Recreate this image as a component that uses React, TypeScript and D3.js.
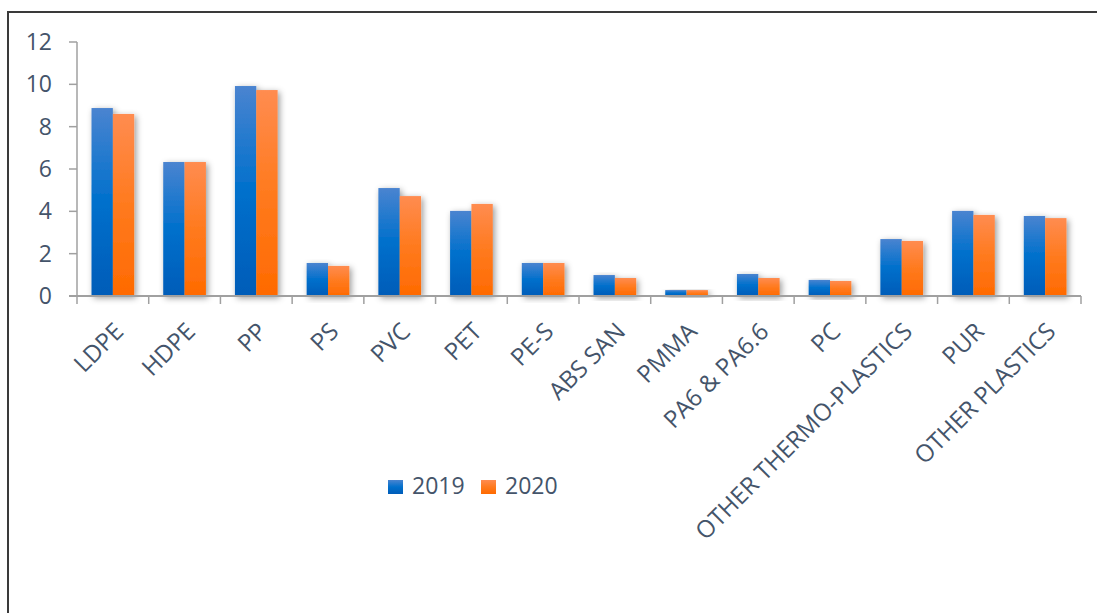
import React from "react";
import * as d3 from "d3";

const categories = ["LDPE", "HDPE", "PP", "PS", "PVC", "PET", "PE-S", "ABS SAN", "PMMA", "PA6 & PA6.6", "PC", "OTHER THERMO-PLASTICS", "PUR", "OTHER PLASTICS"];
const series = ["2019", "2020"];
const values2019 = [8.88, 6.33, 9.92, 1.56, 5.1, 4.02, 1.56, 0.99, 0.28, 1.04, 0.76, 2.69, 4.02, 3.78];
const values2020 = [8.6, 6.33, 9.73, 1.42, 4.72, 4.35, 1.56, 0.85, 0.28, 0.85, 0.71, 2.6, 3.83, 3.68];
const yTicks = [0, 2, 4, 6, 8, 10, 12];

const W = 1097;
const H = 613;
const FONT = "'Open Sans', sans-serif";
const TEXT = "#44546A";
const AXIS = "#A0A0A0";

export default function App() {
  const x0 = d3.scaleBand<string>().domain(categories).range([77, 1081]).padding(0);
  const x1 = d3.scaleBand<string>().domain(series).range([0, x0.bandwidth()]).paddingInner(0).paddingOuter(0.68);
  const y = d3.scaleLinear().domain([0, 12]).range([296, 42]);
  const data = [values2019, values2020];
  const fills = ["url(#gBlue)", "url(#gOrange)"];
  const ticksX = categories.map((_, i) => 77 + i * x0.step()).concat([1081]);

  return (
    <svg width={W} height={H} style={{ position: "absolute", left: 0, top: 0, background: "#fff" }}>
      <defs>
        <linearGradient id="gBlue" x1="0" y1="0" x2="0" y2="1">
          <stop offset="0" stopColor="#4A84D0" />
          <stop offset="0.5" stopColor="#0070CC" />
          <stop offset="1" stopColor="#005CB8" />
        </linearGradient>
        <linearGradient id="gOrange" x1="0" y1="0" x2="0" y2="1">
          <stop offset="0" stopColor="#FF8C50" />
          <stop offset="0.5" stopColor="#FF7A1E" />
          <stop offset="1" stopColor="#FF6A00" />
        </linearGradient>
        <filter id="shadow" x="-30%" y="-10%" width="160%" height="130%">
          <feDropShadow dx="2" dy="2" stdDeviation="3" floodColor="#000" floodOpacity="0.4" />
        </filter>
      </defs>
      <rect x={8} y={12} width={W + 20} height={H + 20} fill="#fff" stroke="#3A3A3A" strokeWidth={2} />

      {categories.map((c, i) => (
        <g key={c} transform={`translate(${x0(c)},0)`} filter="url(#shadow)">
          {series.map((s, k) => (
            <rect key={s} x={x1(s)} y={y(data[k][i])} width={x1.bandwidth()} height={y(0) - y(data[k][i])} fill={fills[k]} />
          ))}
        </g>
      ))}

      <line x1={77} x2={77} y1={y(12)} y2={y(0)} stroke={AXIS} strokeWidth={1.5} />
      {yTicks.map((t) => (
        <g key={t}>
          <line x1={69} x2={77} y1={y(t)} y2={y(t)} stroke={AXIS} strokeWidth={1.5} />
          <text x={52} y={y(t)} dy="0.35em" textAnchor="end" fontFamily={FONT} fontSize={23} fill={TEXT}>{t}</text>
        </g>
      ))}

      <line x1={69} x2={1081} y1={y(0)} y2={y(0)} stroke={AXIS} strokeWidth={2} />
      {ticksX.map((tx, i) => (
        <line key={i} x1={tx} x2={tx} y1={y(0)} y2={y(0) + 8} stroke={AXIS} strokeWidth={1.5} />
      ))}
      {categories.map((c) => {
        const cx = (x0(c) as number) + x0.bandwidth() / 2;
        return (
          <text key={c} transform={`translate(${cx + 12},${333}) rotate(-45)`} textAnchor="end" fontFamily={FONT} fontSize={24} fill={TEXT}>{c}</text>
        );
      })}

      {series.map((s, k) => {
        const lx = k === 0 ? 388 : 481;
        return (
          <g key={s}>
            <rect x={lx} y={480} width={15} height={14} fill={fills[k]} />
            <text x={lx + 24} y={494} fontFamily={FONT} fontSize={23} fill={TEXT}>{s}</text>
          </g>
        );
      })}
    </svg>
  );
}
